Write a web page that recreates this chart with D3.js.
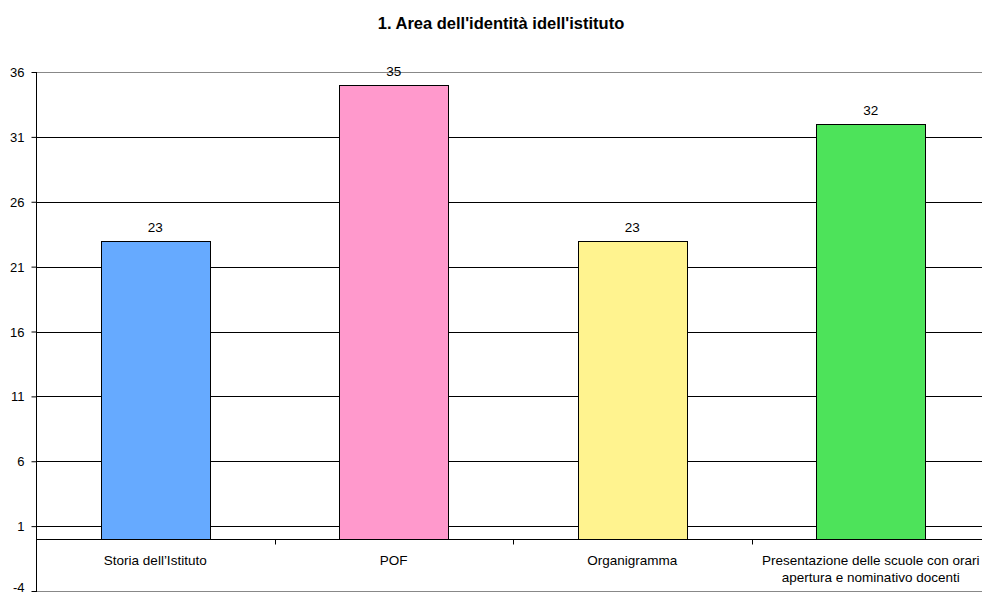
<!DOCTYPE html>
<html><head><meta charset="utf-8">
<script src="https://cdn.jsdelivr.net/npm/d3@7"></script>
<style>body{margin:0;background:#fff}svg{display:block;font-family:"Liberation Sans",Arial,sans-serif}</style>
</head><body><svg id="c" width="982" height="595"></svg>
<script>
const title = "1. Area dell'identità idell'istituto";
const categories = [["Storia dell\u2019Istituto"], ["POF"], ["Organigramma"], ["Presentazione delle scuole con orari", "apertura e nominativo docenti"]];
const values = [23, 35, 23, 32];
const colors = ["#66AAFF", "#FF99CC", "#FFF38F", "#4DE35A"];
const yTicks = [-4, 1, 6, 11, 16, 21, 26, 31, 36];

(function () {
const svg = d3.select("#c");
const pLeft = 36, pRight = 990, pTop = 72, pBottom = 591;
const x = d3.scaleBand().domain(d3.range(values.length)).range([pLeft, pRight]).paddingInner(0.542).paddingOuter(0.271);
const y = d3.scaleLinear().domain([-4, 36]).range([pBottom, pTop]);

svg.append("text").attr("x", 501).attr("y", 28.5).attr("text-anchor", "middle")
  .attr("font-weight", "bold").attr("font-size", 16.5).text(title);

// gridlines
svg.append("g").selectAll("line").data(yTicks).join("line")
  .attr("x1", pLeft).attr("x2", pRight)
  .attr("y1", d => Math.round(y(d)) + 0.5).attr("y2", d => Math.round(y(d)) + 0.5)
  .attr("stroke", d => (d === 36 || d === -4) ? "#888" : "#000").attr("stroke-width", 1);

// y axis
const yAxis = d3.axisLeft(y).tickValues(yTicks).tickSize(5).tickPadding(7).tickFormat(d3.format("d"));
const ga = svg.append("g").attr("transform", `translate(${pLeft + 0.5},0)`).call(yAxis);
ga.select(".domain").remove();
ga.selectAll(".tick line").attr("stroke", "#000");
ga.selectAll(".tick text").attr("font-size", 13).attr("font-family", '"Liberation Sans",Arial,sans-serif').attr("fill", "#000")
  .text(d => d < 0 ? "-" + Math.abs(d) : d)
  .attr("dy", d => d === -4 ? "0.05em" : "0.35em");
svg.append("line").attr("x1", pLeft + 0.5).attr("x2", pLeft + 0.5).attr("y1", pTop).attr("y2", pBottom + 1).attr("stroke", "#000");

// bars
svg.append("g").selectAll("rect").data(values).join("rect")
  .attr("x", (d, i) => Math.round(x(i)) + 0.5)
  .attr("width", Math.round(x.bandwidth()))
  .attr("y", d => Math.round(y(d)) + 0.5)
  .attr("height", d => Math.round(y(0)) - Math.round(y(d)))
  .attr("fill", (d, i) => colors[i]).attr("stroke", "#000").attr("stroke-width", 1);

// value labels
svg.append("g").selectAll("text").data(values).join("text")
  .attr("x", (d, i) => x(i) + x.bandwidth() / 2)
  .attr("y", d => y(d) - 8.5)
  .attr("text-anchor", "middle").attr("font-size", 13.5).text(d => d);

// category axis at zero
const y0 = Math.round(y(0)) + 0.5;
svg.append("line").attr("x1", pLeft).attr("x2", pRight).attr("y1", y0).attr("y2", y0).attr("stroke", "#000");
const step = x.step();
const bounds = d3.range(1, values.length).map(i => pLeft + i * step);
svg.append("g").selectAll("line").data(bounds).join("line")
  .attr("x1", d => Math.round(d) + 0.5).attr("x2", d => Math.round(d) + 0.5)
  .attr("y1", y0).attr("y2", y0 + 5).attr("stroke", "#000");

const cl = svg.append("g").selectAll("text").data(categories).join("text")
  .attr("x", (d, i) => x(i) + x.bandwidth() / 2)
  .attr("y", 565.3).attr("text-anchor", "middle").attr("font-size", 13.5);
cl.selectAll("tspan").data(d => d).join("tspan")
  .attr("x", function () { return d3.select(this.parentNode).attr("x"); })
  .attr("dy", (d, i) => i === 0 ? 0 : 16.5).text(d => d);
})();
</script></body></html>
